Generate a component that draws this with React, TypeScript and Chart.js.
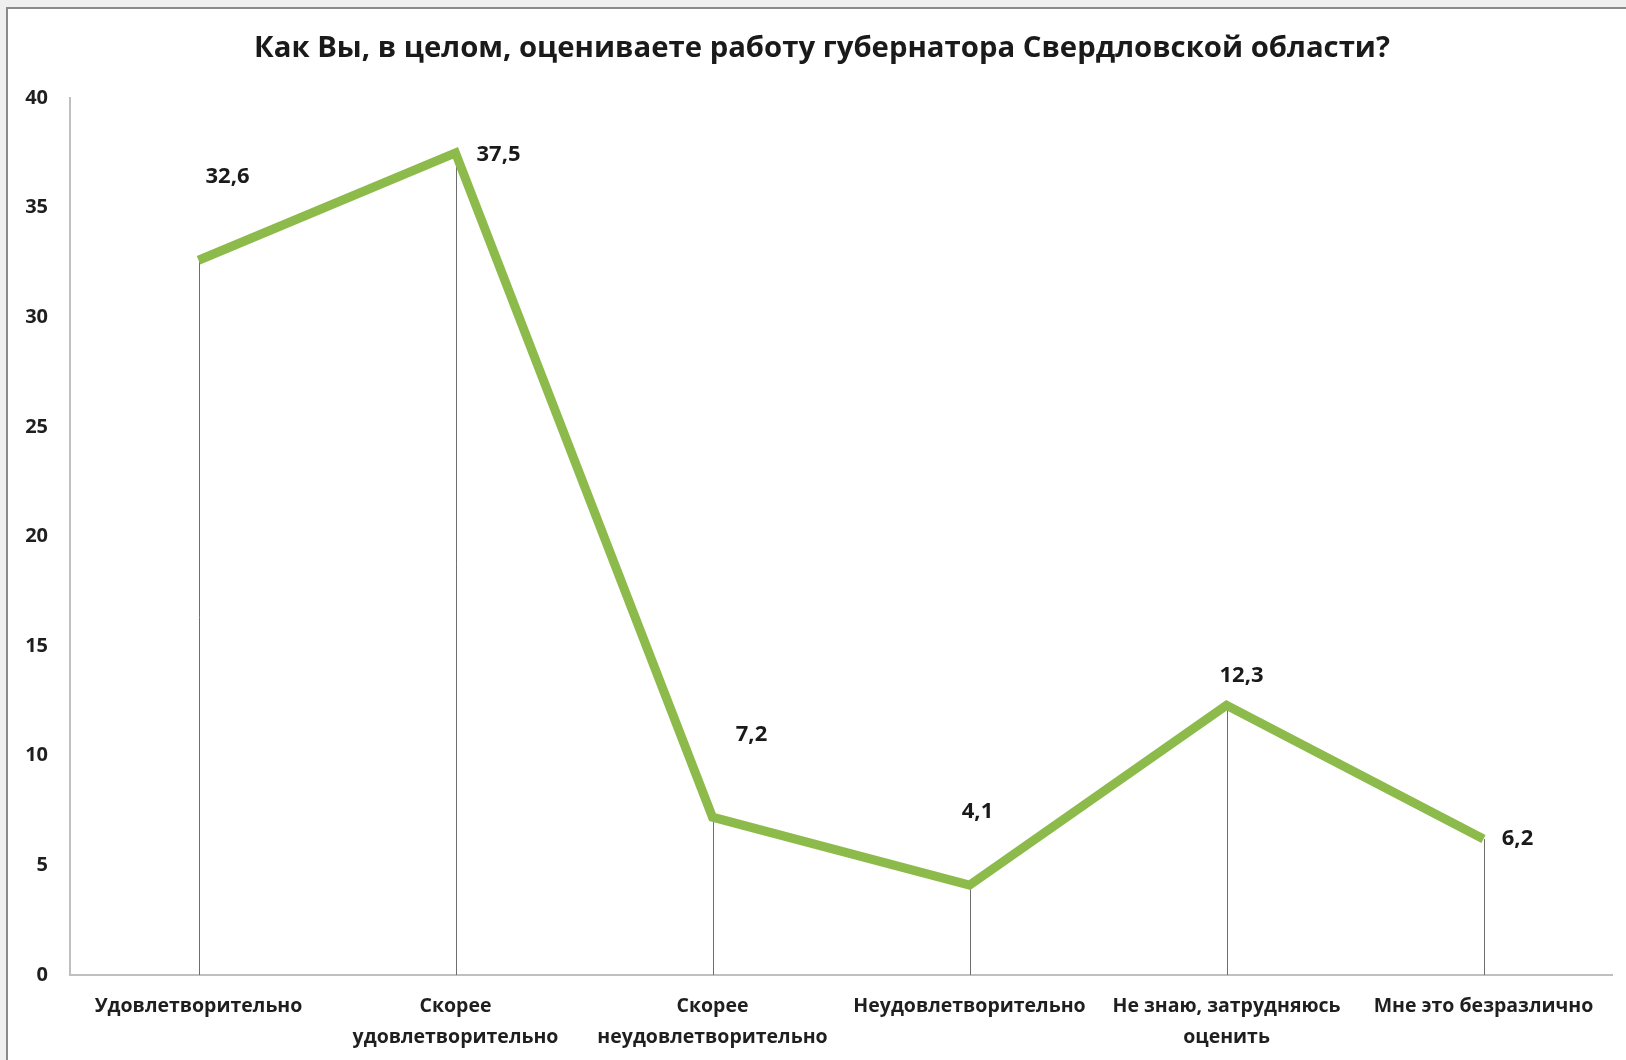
import React, { useEffect, useRef } from "react";
import { Chart, registerables } from "chart.js";

Chart.register(...registerables);

const chartTitle = "Как Вы, в целом, оцениваете работу губернатора Свердловской области?";
const categories: (string | string[])[] = [
  "Удовлетворительно",
  ["Скорее", "удовлетворительно"],
  ["Скорее", "неудовлетворительно"],
  "Неудовлетворительно",
  ["Не знаю, затрудняюсь", "оценить"],
  "Мне это безразлично",
];
const values = [32.6, 37.5, 7.2, 4.1, 12.3, 6.2];
const yMin = 0;
const yMax = 40;
const yStep = 5;

// label placement relative to each point (styling only)
const labelOffsets: [number, number][] = [
  [29, -84],
  [43, 2],
  [39, -82],
  [8, -73],
  [15, -30],
  [34, 0],
];

const FONT = "'Open Sans', 'Noto Sans', sans-serif";
const LINE_COLOR = "#8DBB4B";

const titlePlugin = {
  id: "titleText",
  afterDraw(chart: any) {
    const ctx = chart.ctx;
    ctx.save();
    ctx.font = `bold 29.3px ${FONT}`;
    ctx.fillStyle = "#1a1a1a";
    ctx.textAlign = "center";
    ctx.textBaseline = "middle";
    // centred between the outer frame and the right end of the plot
    const cx = (32 + chart.chartArea.right) / 2;
    ctx.fillText(chartTitle, cx, 49);
    ctx.restore();
  },
};

const dropLines = {
  id: "dropLines",
  beforeDatasetsDraw(chart: any) {
    const meta = chart.getDatasetMeta(0);
    const yScale = chart.scales.y;
    const base = yScale.getPixelForValue(0);
    const ctx = chart.ctx;
    ctx.save();
    ctx.strokeStyle = "#6e6e6e";
    ctx.lineWidth = 1;
    meta.data.forEach((pt: any) => {
      const x = Math.round(pt.x) + 0.5;
      ctx.beginPath();
      ctx.moveTo(x, pt.y);
      ctx.lineTo(x, base);
      ctx.stroke();
    });
    ctx.restore();
  },
};

const dataLabels = {
  id: "dataLabels",
  afterDatasetsDraw(chart: any) {
    const meta = chart.getDatasetMeta(0);
    const ctx = chart.ctx;
    ctx.save();
    ctx.font = `bold 22px ${FONT}`;
    ctx.fillStyle = "#1a1a1a";
    ctx.textAlign = "center";
    ctx.textBaseline = "middle";
    meta.data.forEach((pt: any, i: number) => {
      const v = chart.data.datasets[0].data[i];
      const [dx, dy] = labelOffsets[i] || [0, -20];
      ctx.fillText(String(v).replace(".", ","), pt.x + dx, pt.y + dy);
    });
    ctx.restore();
  },
};

export default function App() {
  const ref = useRef<HTMLCanvasElement | null>(null);

  useEffect(() => {
    if (!ref.current) return;
    const chart = new Chart(ref.current, {
      type: "line",
      data: {
        labels: categories,
        datasets: [
          {
            data: values,
            borderColor: LINE_COLOR,
            borderWidth: 9,
            pointRadius: 0,
            pointHoverRadius: 0,
            tension: 0,
            fill: false,
          },
        ],
      },
      options: {
        responsive: false,
        animation: false,
        events: [],
        layout: { padding: { left: 0, right: 14, top: 98, bottom: 0 } },
        plugins: {
          legend: { display: false },
          tooltip: { enabled: false },
          title: { display: false },
        },
        scales: {
          x: {
            offset: true,
            grid: { display: false, drawTicks: false },
            border: { display: true, color: "#bfbfbf", width: 2 },
            ticks: {
              color: "#1f1f1f",
              font: { family: FONT, size: 19.5, weight: "bold", lineHeight: 1.6 },
              padding: 16,
              maxRotation: 0,
              autoSkip: false,
            },
            afterFit(scale: any) {
              scale.height = 85;
            },
          },
          y: {
            min: yMin,
            max: yMax,
            grid: { display: false, drawTicks: false },
            border: { display: true, color: "#bfbfbf", width: 2 },
            ticks: {
              stepSize: yStep,
              color: "#1f1f1f",
              font: { family: FONT, size: 20, weight: "bold" },
              padding: 22,
            },
            afterFit(scale: any) {
              scale.width = 70;
            },
          },
        },
      },
      plugins: [dropLines, dataLabels, titlePlugin],
    });
    return () => chart.destroy();
  }, []);

  return (
    <div
      style={{
        position: "fixed",
        left: 0,
        top: 0,
        width: 1626,
        height: 1060,
        background: "#efefef",
        overflow: "hidden",
      }}
    >
      <div
        style={{
          position: "absolute",
          left: 6,
          top: 7,
          width: 1626,
          height: 1060,
          background: "#ffffff",
          borderLeft: "2px solid #8a8a8a",
          borderTop: "2px solid #8a8a8a",
        }}
      />
      <canvas
        ref={ref}
        width={1626}
        height={1060}
        style={{ position: "absolute", left: 0, top: 0, width: 1626, height: 1060 }}
      />
    </div>
  );
}
